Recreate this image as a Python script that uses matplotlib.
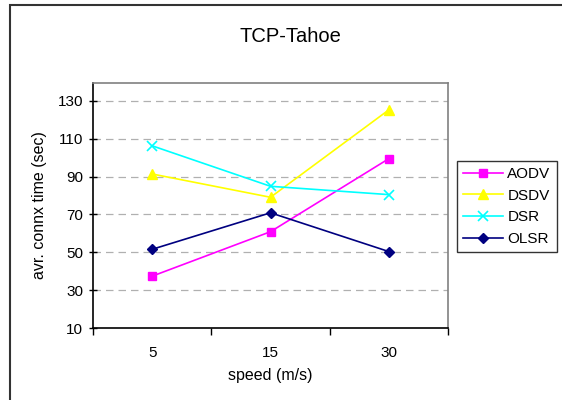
import matplotlib
matplotlib.use('Agg')
import matplotlib.pyplot as plt
import matplotlib.patches as patches

plt.rcParams['font.family'] = ['Liberation Sans', 'DejaVu Sans']

# data
speeds = ['5', '15', '30']
aodv = [37.4, 60.9, 99.5]
dsdv = [91.4, 79.1, 125.3]
dsr = [106.3, 84.9, 80.5]
olsr = [51.6, 70.9, 50.4]
y_ticks = [10, 30, 50, 70, 90, 110, 130]

W, H = 562, 400
fig = plt.figure(figsize=(W / 100, H / 100), dpi=100)
ax = fig.add_axes([93 / W, 1 - 328 / H, (448 - 93) / W, (328 - 83) / H])

x = list(range(len(speeds)))
ax.plot(x, aodv, color='#FF00FF', marker='s', markersize=6, lw=1.2, label='AODV')
ax.plot(x, dsdv, color='#FFFF00', marker='^', markersize=7, lw=1.2, label='DSDV')
ax.plot(x, dsr, color='#00FFFF', marker='x', markersize=7, mew=1.2, lw=1.2, label='DSR')
ax.plot(x, olsr, color='#000080', marker='D', markersize=5, lw=1.2, label='OLSR')

ax.set_xlim(-0.5, 2.5)
ax.set_ylim(10, 139.5)
ax.set_yticks(y_ticks)
for v in y_ticks[1:]:
    ax.axhline(v, color='#B0B0B0', lw=0.9, ls=(0, (6, 4)), zorder=0)

ax.set_xticks(x)
ax.set_xticklabels(speeds)
ax.set_xticks([-0.5, 0.5, 1.5, 2.5], minor=True)
ax.tick_params(axis='x', which='major', length=0, pad=13, labelsize=11)
ax.tick_params(axis='x', which='minor', length=5, direction='out', width=1)
ax.tick_params(axis='y', length=6, direction='inout', width=1, labelsize=11, pad=4)

for s in ['top', 'right']:
    ax.spines[s].set_color('#808080')
    ax.spines[s].set_linewidth(1.2)
for s in ['left', 'bottom']:
    ax.spines[s].set_color('black')
    ax.spines[s].set_linewidth(1.2)

ax.set_ylabel('avr. connx time (sec)', fontsize=11.5, labelpad=8)
ax.set_xlabel('speed (m/s)', fontsize=11.5, labelpad=6)
fig.text(290 / W, 1 - 37 / H, 'TCP-Tahoe', fontsize=14.5, ha='center', va='center')

leg = fig.legend(loc='upper left', bbox_to_anchor=(457 / W, 1 - 161 / H),
                 bbox_transform=fig.transFigure, frameon=True, fancybox=False,
                 edgecolor='black', fontsize=11, handlelength=2.6,
                 borderpad=0.4, labelspacing=0.5, handletextpad=0.3,
                 borderaxespad=0)
leg.get_frame().set_linewidth(1.0)

# outer chart border (only top/left visible in crop)
fig.add_artist(patches.Rectangle((10 / W, -0.1), 1.2, 1 - 5 / H + 0.1,
                                 transform=fig.transFigure, fill=False,
                                 edgecolor='#333333', lw=1.5))

fig.savefig('out.png', dpi=100)
